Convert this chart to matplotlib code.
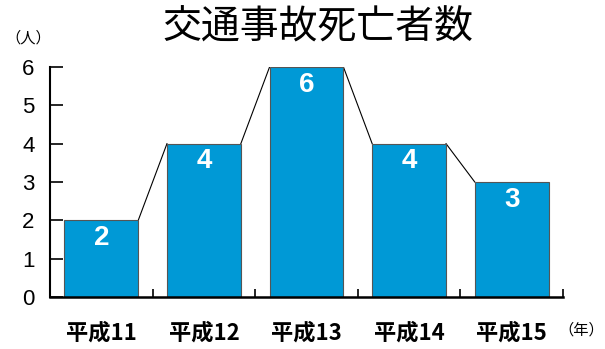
import matplotlib
matplotlib.use("Agg")
import matplotlib.pyplot as plt

plt.rcParams['font.family'] = ['Noto Sans CJK JP', 'DejaVu Sans']

title = "交通事故死亡者数"
categories = ["平成11", "平成12", "平成13", "平成14", "平成15"]
values = [2, 4, 6, 4, 3]
yticks = [0, 1, 2, 3, 4, 5, 6]

bar_color = "#0099d6"
width = 0.72

fig = plt.figure(figsize=(6.05, 3.49), dpi=100)
ax = fig.add_axes([50/605, 1-297/349, (563-50)/605, (297-67)/349])

x = list(range(len(categories)))
ax.bar(x, values, width=width, color=bar_color, edgecolor="#555555", linewidth=0.8, zorder=2)

# connector lines between adjacent bar tops
for i in range(len(values) - 1):
    ax.plot([x[i] + width/2, x[i+1] - width/2], [values[i], values[i+1]],
            color="black", linewidth=0.8, zorder=1)

for xi, v in zip(x, values):
    ax.text(xi, v - 0.12, str(v), ha="center", va="top", color="white",
            fontsize=20, fontweight="bold", family=["Liberation Sans Narrow", "Liberation Sans", "DejaVu Sans"], zorder=3)

ax.set_xlim(-0.5, len(categories) - 0.5)
ax.set_ylim(0, 6)
ax.set_yticks(yticks)
ax.set_yticklabels([str(t) for t in yticks], fontsize=16, family=["Liberation Sans", "DejaVu Sans"])
ax.set_xticks(x)
ax.set_xticklabels(categories, fontsize=16, fontweight="bold")
ax.tick_params(axis="x", length=0, pad=18)
ax.set_xticks([i + 0.5 for i in x], minor=True)
ax.tick_params(axis="x", which="minor", direction="in", length=6, width=1.2)
ax.tick_params(axis="y", direction="in", length=9, width=1.2, pad=11)

for s in ["top", "right"]:
    ax.spines[s].set_visible(False)
ax.spines["left"].set_linewidth(1.5)
ax.spines["bottom"].set_linewidth(1.8)

fig.text(318/605, 1-28/349, title, ha="center", va="center", fontsize=28)
fig.text(28/605, 1-38/349, "（人）", ha="center", va="center", fontsize=11)
fig.text(604/605, 1-330/349, "（年）", ha="right", va="center", fontsize=11)

fig.savefig("out.png", dpi=100)
